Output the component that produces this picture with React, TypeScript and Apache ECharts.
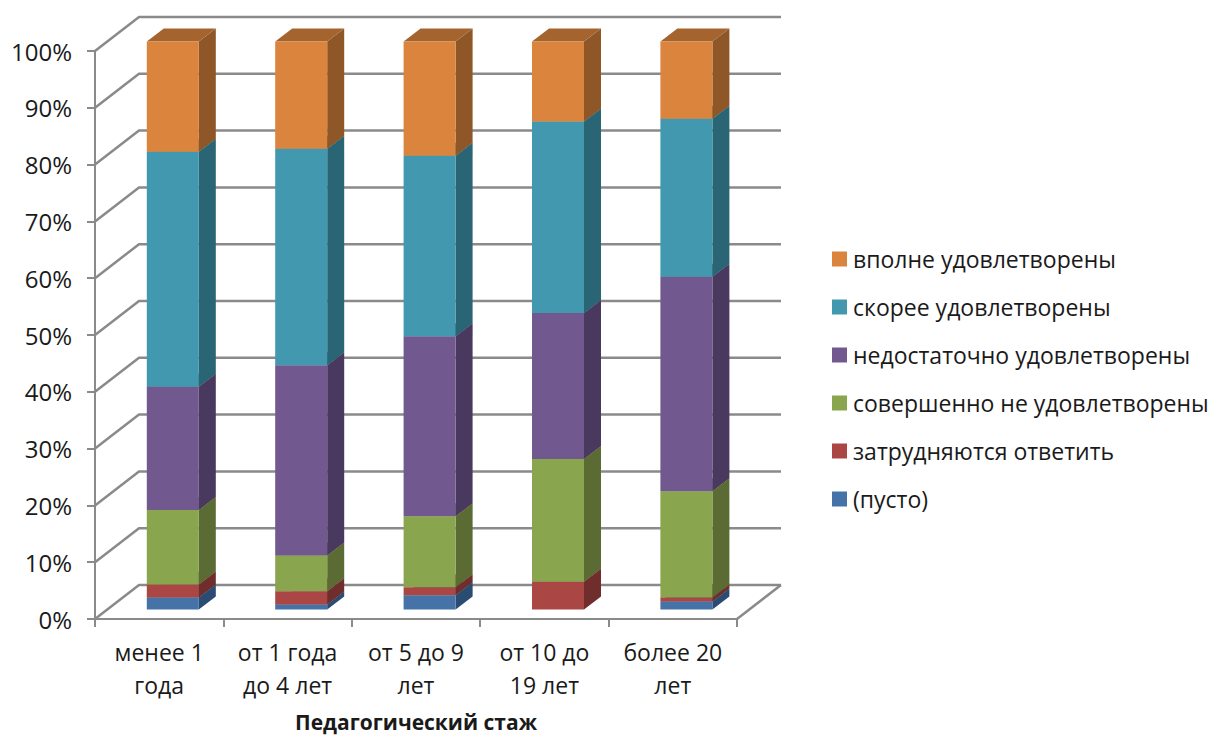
import React, { useEffect, useRef } from "react";
import * as echarts from "echarts";

const categories = ["менее 1\nгода", "от 1 года\nдо 4 лет", "от 5 до 9\nлет", "от 10 до\n19 лет", "более 20\nлет"];
const seriesNames = ["(пусто)", "затрудняются ответить", "совершенно не удовлетворены", "недостаточно удовлетворены", "скорее удовлетворены", "вполне удовлетворены"];
const empty = [2.1, 0.9, 2.5, 0, 1.4];
const hardToSay = [2.3, 2.3, 1.4, 4.9, 0.7];
const notAtAll = [13.1, 6.3, 12.5, 21.6, 18.7];
const notEnough = [21.7, 33.5, 31.7, 25.7, 37.8];
const ratherYes = [41.4, 38.1, 31.8, 33.7, 27.8];
const fullyYes = [19.4, 18.9, 20.1, 14.1, 13.6];
const allValues = [empty, hardToSay, notAtAll, notEnough, ratherYes, fullyYes];
const yTicks = [0, 10, 20, 30, 40, 50, 60, 70, 80, 90, 100];

const frontColors = ["#4573A7", "#AA4643", "#89A54E", "#71588F", "#4198AF", "#DB843D"];
const sideColors = ["#2B4C72", "#6F2D2B", "#5A6B33", "#4A395F", "#2A6575", "#8F5727"];
const topColors = ["#37608E", "#8C3A38", "#728A40", "#5E4977", "#367F92", "#A5642E"];

const FONT = "'Open Sans', sans-serif";
const FONT_SIZE = 23;
const GRID_COLOR = "#8A8A8A";

const WALL_DX = 44;
const WALL_DY = -34;
const BAR_DX = 13.6;
const BAR_DY = -9.5;
const DEPTH_DX = 17;
const DEPTH_DY = -13;
const BAR_RATIO = 0.405;

function renderWall(params: any, api: any) {
  const y = api.coord([0, api.value(0)])[1];
  const { x, width } = params.coordSys;
  const children: any[] = [
    {
      type: "polyline",
      shape: {
        points: [
          [x, y],
          [x + WALL_DX, y + WALL_DY],
          [x + width + WALL_DX, y + WALL_DY],
        ],
      },
      style: { stroke: GRID_COLOR, lineWidth: 2.5, fill: "none" },
    },
  ];
  if (api.value(0) === 0) {
    children.push({
      type: "line",
      shape: { x1: x + width, y1: y, x2: x + width + WALL_DX, y2: y + WALL_DY },
      style: { stroke: GRID_COLOR, lineWidth: 2.5 },
    });
  }
  return { type: "group", children };
}

function makeBarRenderer(idx: number) {
  return (_params: any, api: any) => {
    const cat = api.value(0);
    const start = api.value(1);
    const end = api.value(2);
    if (end <= start) return { type: "group", children: [] };
    const w = api.size([1, 0])[0] * BAR_RATIO;
    const cx = api.coord([cat, 0])[0] + BAR_DX;
    const x0 = cx - w / 2;
    const x1 = cx + w / 2;
    const yb = api.coord([cat, start])[1] + BAR_DY;
    const yt = api.coord([cat, end])[1] + BAR_DY;
    return {
      type: "group",
      children: [
        {
          type: "polygon",
          shape: { points: [[x1, yb], [x1 + DEPTH_DX, yb + DEPTH_DY], [x1 + DEPTH_DX, yt + DEPTH_DY], [x1, yt]] },
          style: { fill: sideColors[idx] },
        },
        {
          type: "polygon",
          shape: { points: [[x0, yt], [x0 + DEPTH_DX, yt + DEPTH_DY], [x1 + DEPTH_DX, yt + DEPTH_DY], [x1, yt]] },
          style: { fill: topColors[idx] },
        },
        {
          type: "rect",
          shape: { x: x0, y: yt, width: x1 - x0, height: yb - yt },
          style: { fill: frontColors[idx] },
        },
      ],
    };
  };
}

export default function App() {
  const ref = useRef<HTMLDivElement>(null);
  useEffect(() => {
    document.body.style.margin = "0";
    const chart = echarts.init(ref.current!, undefined, { renderer: "svg" });
    const barSeries = allValues.map((values, idx) => ({
      type: "custom",
      name: seriesNames[idx],
      renderItem: makeBarRenderer(idx),
      itemStyle: { color: frontColors[idx] },
      encode: { x: 0, y: [1, 2] },
      z: 3 + idx,
      data: values.map((v, c) => {
        const start = allValues.slice(0, idx).reduce((s, a) => s + a[c], 0);
        return [c, start, start + v];
      }),
    }));
    chart.setOption({
      animation: false,
      backgroundColor: "#ffffff",
      grid: { left: 95, top: 51, width: 642, height: 568, containLabel: false, outerBoundsMode: "none" },
      legend: {
        orient: "vertical",
        left: 832,
        top: 247.5,
        padding: 0,
        itemWidth: 15,
        itemHeight: 15,
        itemGap: 25,
        icon: "rect",
        selectedMode: false,
        data: [...seriesNames].reverse(),
        textStyle: {
          fontFamily: FONT,
          fontSize: FONT_SIZE,
          color: "#1a1a1a",
          padding: [0, 0, 0, 1],
        },
      },
      xAxis: {
        type: "category",
        data: categories,
        name: "Педагогический стаж",
        nameLocation: "middle",
        nameGap: 92,
        nameTextStyle: { fontFamily: FONT, fontSize: 21, fontWeight: "bold", color: "#1a1a1a" },
        axisLine: { lineStyle: { color: GRID_COLOR, width: 2 } },
        axisTick: { show: true, length: 8, alignWithLabel: false, lineStyle: { color: GRID_COLOR, width: 2 } },
        axisLabel: { fontFamily: FONT, fontSize: FONT_SIZE, color: "#1a1a1a", lineHeight: 33, margin: 16, interval: 0 },
        splitLine: { show: false },
      },
      yAxis: {
        type: "value",
        min: 0,
        max: 100,
        interval: 10,
        axisLine: { show: true, lineStyle: { color: GRID_COLOR, width: 2 } },
        axisTick: { show: true, length: 8, lineStyle: { color: GRID_COLOR, width: 2 } },
        axisLabel: { fontFamily: FONT, fontSize: 24, color: "#1a1a1a", margin: 23, formatter: "{value}%" },
        splitLine: { show: false },
      },
      series: [
        {
          type: "custom",
          renderItem: renderWall,
          encode: { y: 0 },
          silent: true,
          z: 1,
          data: yTicks.map((t) => [t]),
        },
        ...barSeries,
      ],
    });
    return () => chart.dispose();
  }, []);
  return <div ref={ref} style={{ width: 1212, height: 736 }} />;
}
